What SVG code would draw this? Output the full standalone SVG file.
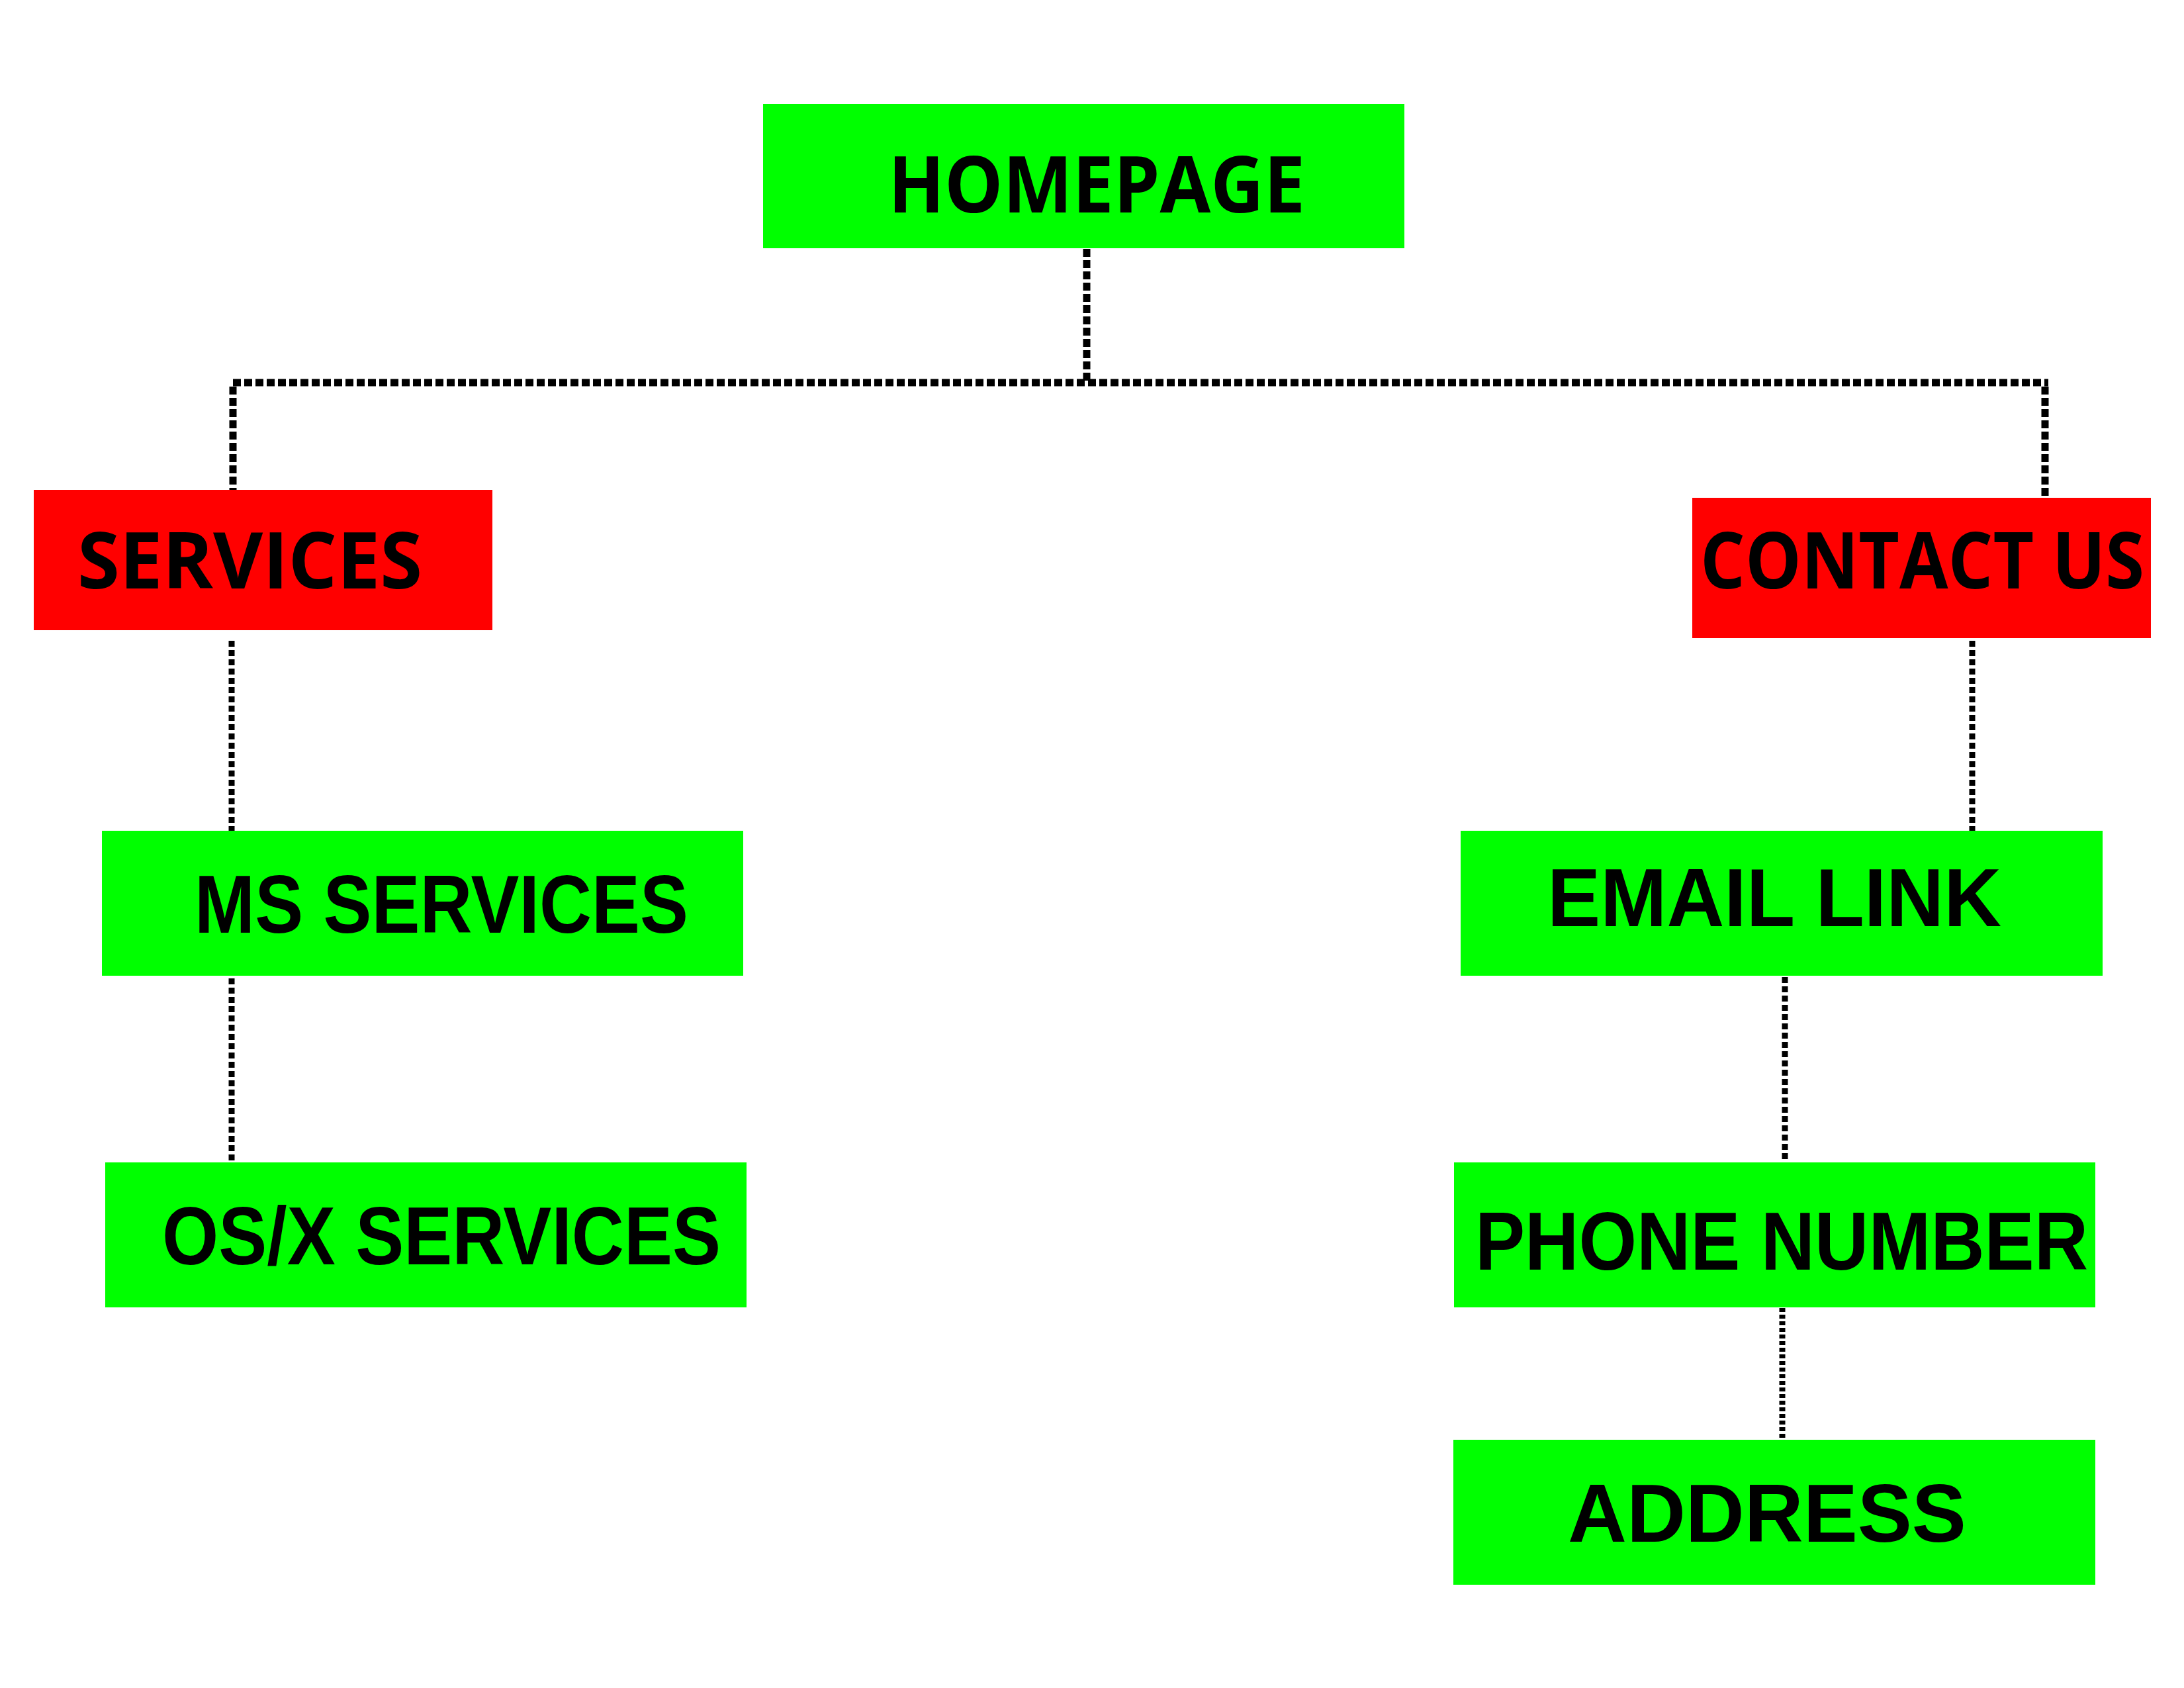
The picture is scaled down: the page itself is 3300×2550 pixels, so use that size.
<svg xmlns="http://www.w3.org/2000/svg" width="3300" height="2550" viewBox="0 0 3300 2550">
<style>
.g{fill:#00ff00}
.r{fill:#ff0000}
.t1{font-family:"Open Sans","Liberation Sans",sans-serif;font-weight:700;font-size:118px;fill:#000}
.t2{font-family:"Liberation Sans",Arial,sans-serif;font-weight:700;font-size:125px;fill:#000}
.c1{fill:none;stroke:#000;stroke-width:11;stroke-dasharray:12 5}
.c2{fill:none;stroke:#000;stroke-width:9;stroke-dasharray:9 5}
.c3{fill:none;stroke:#000;stroke-width:9;stroke-dasharray:6 4}
</style>
<rect width="3300" height="2550" fill="#fff"/>
<g id="connectors">
<line class="c1" x1="1642" y1="376" x2="1642" y2="578"/>
<line class="c1" x1="352" y1="578" x2="3095" y2="578"/>
<line class="c1" x1="352" y1="584" x2="352" y2="740"/>
<line class="c1" x1="3090" y1="584" x2="3090" y2="752"/>
<line class="c2" x1="350" y1="968" x2="350" y2="1255"/>
<line class="c2" x1="350" y1="1478" x2="350" y2="1756"/>
<line class="c2" x1="2980" y1="968" x2="2980" y2="1255"/>
<line class="c2" x1="2697" y1="1476" x2="2697" y2="1760"/>
<line class="c3" x1="2693" y1="1976" x2="2693" y2="2175"/>
</g>
<g id="homepage">
<rect class="g" x="1153" y="157" width="969" height="218"/>
<text class="t1" x="1342" y="321" textLength="630" lengthAdjust="spacingAndGlyphs">HOMEPAGE</text>
</g>
<g id="services">
<rect class="r" x="51" y="740" width="693" height="212"/>
<text class="t1" x="117" y="889" textLength="521" lengthAdjust="spacingAndGlyphs">SERVICES</text>
</g>
<g id="contact-us">
<rect class="r" x="2557" y="752" width="693" height="212"/>
<text class="t1" x="2569" y="889" textLength="671" lengthAdjust="spacingAndGlyphs">CONTACT US</text>
</g>
<g id="ms-services">
<rect class="g" x="154" y="1255" width="969" height="219"/>
<text class="t2" x="294" y="1409" textLength="746" lengthAdjust="spacingAndGlyphs">MS SERVICES</text>
</g>
<g id="osx-services">
<rect class="g" x="159" y="1756" width="969" height="219"/>
<text class="t2" x="245" y="1910" textLength="844" lengthAdjust="spacingAndGlyphs">OS/X SERVICES</text>
</g>
<g id="email-link">
<rect class="g" x="2207" y="1255" width="970" height="219"/>
<text class="t2" x="2338" y="1399" textLength="686" lengthAdjust="spacingAndGlyphs">EMAIL LINK</text>
</g>
<g id="phone-number">
<rect class="g" x="2197" y="1756" width="969" height="219"/>
<text class="t2" x="2229" y="1918" textLength="926" lengthAdjust="spacingAndGlyphs">PHONE NUMBER</text>
</g>
<g id="address">
<rect class="g" x="2196" y="2175" width="970" height="219"/>
<text class="t2" x="2369" y="2329" textLength="602" lengthAdjust="spacingAndGlyphs">ADDRESS</text>
</g>
</svg>
